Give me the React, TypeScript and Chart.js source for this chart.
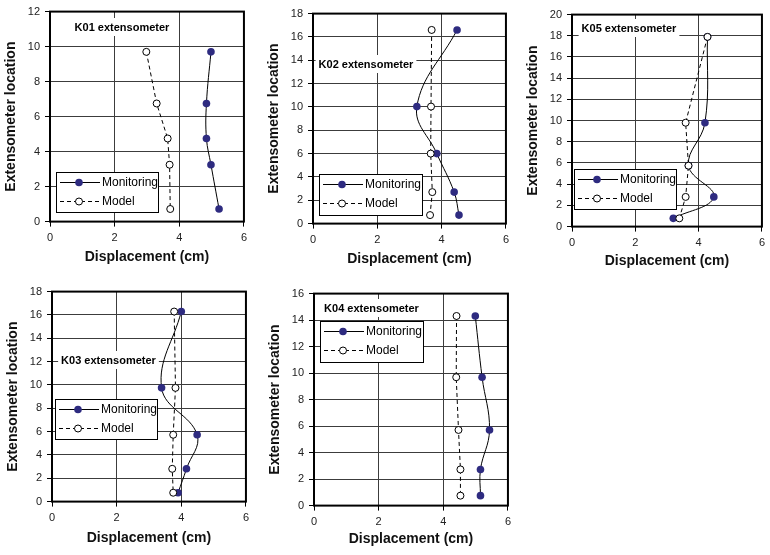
import React, { useEffect, useRef } from "react";
import { Chart, registerables } from "chart.js";
Chart.register(...registerables);

// ---------- data ----------
const xTickValues = [0, 2, 4, 6];
const seriesNames = ["Monitoring", "Model"];
const panelTitles = ["K01 extensometer", "K02 extensometer", "K05 extensometer", "K03 extensometer", "K04 extensometer"];
const xAxisTitle = "Displacement (cm)";
const yAxisTitle = "Extensometer location";
const yMaxValues = [12, 18, 20, 18, 16];

const k01Location = [9.7, 6.75, 4.75, 3.25, 0.72];
const k01Monitoring = [4.98, 4.84, 4.84, 4.98, 5.23];
const k01Model = [2.98, 3.3, 3.64, 3.7, 3.72];

const k02Location = [16.6, 10.03, 6.0, 2.7, 0.73];
const k02Monitoring = [4.48, 3.23, 3.85, 4.39, 4.54];
const k02Model = [3.69, 3.67, 3.66, 3.71, 3.64];

const k05Location = [17.9, 9.8, 5.75, 2.8, 0.78];
const k05Monitoring = [4.28, 4.2, 3.68, 4.48, 3.2];
const k05Model = [4.28, 3.59, 3.68, 3.59, 3.39];

const k03Location = [16.29, 9.75, 5.73, 2.81, 0.76];
const k03Monitoring = [4.0, 3.39, 4.49, 4.16, 3.9];
const k03Model = [3.78, 3.82, 3.75, 3.72, 3.75];

const k04Location = [14.31, 9.69, 5.71, 2.73, 0.75];
const k04Monitoring = [4.99, 5.2, 5.43, 5.15, 5.15];
const k04Model = [4.41, 4.4, 4.47, 4.53, 4.53];

const panelData = [
  { loc: k01Location, mon: k01Monitoring, mod: k01Model },
  { loc: k02Location, mon: k02Monitoring, mod: k02Model },
  { loc: k05Location, mon: k05Monitoring, mod: k05Model },
  { loc: k03Location, mon: k03Monitoring, mod: k03Model },
  { loc: k04Location, mon: k04Monitoring, mod: k04Model },
];

// ---------- layout (page pixel coordinates) ----------
const layouts = [
  { area: { l: 50, r: 244, t: 9, b: 222 }, title: { cx: 122, cy: 28 }, legend: { x: 56, y: 172, w: 102, h: 40 }, xTitleDy: 36 },
  { area: { l: 313, r: 506, t: 11, b: 224 }, title: { cx: 366, cy: 65 }, legend: { x: 319, y: 174, w: 103, h: 41 }, xTitleDy: 36 },
  { area: { l: 572, r: 766, t: 12, b: 227 }, title: { cx: 629, cy: 29 }, legend: { x: 574, y: 169, w: 102, h: 40 }, xTitleDy: 35 },
  { area: { l: 52, r: 246, t: 289, b: 502 }, title: { cx: 108.5, cy: 361 }, legend: { x: 55, y: 399, w: 102, h: 40 }, xTitleDy: 37 },
  { area: { l: 314, r: 508, t: 291, b: 506 }, title: { cx: 371.5, cy: 309 }, legend: { x: 320, y: 321, w: 103, h: 41 }, xTitleDy: 34 },
];

const FONT = '"Liberation Sans", Arial, sans-serif';
const INDIGO = "#2E2B80";
const GRID = "#3c3c3c";
const Y_AXIS_W = 50;
const PAD_TOP = 9;
const TITLE_FONT_SIZE = 14;

function Panel({ index }: { index: number }) {
  const ref = useRef<HTMLCanvasElement | null>(null);
  const lay = layouts[index];
  const { l, r, t, b } = lay.area;
  const padRight = Math.min(8, 770 - r);
  const canvasLeft = l - Y_AXIS_W;
  const canvasTop = t - PAD_TOP;
  const lineH = TITLE_FONT_SIZE * 1.2;
  const xScaleH = lay.xTitleDy + lineH / 2 + 2;
  const width = Y_AXIS_W + (r - l) + padRight;
  const height = PAD_TOP + (b - t) + xScaleH;

  useEffect(() => {
    const canvas = ref.current;
    if (!canvas) return;
    const d = panelData[index];
    const ox = canvasLeft;
    const oy = canvasTop;

    const framePlugin = {
      id: "frame" + index,
      beforeDatasetsDraw(chart: any) {
        const { ctx, chartArea } = chart;
        ctx.save();
        ctx.strokeStyle = "#000";
        ctx.lineWidth = 2;
        ctx.strokeRect(chartArea.left, chartArea.top, chartArea.right - chartArea.left, chartArea.bottom - chartArea.top);
        ctx.restore();
      },
      afterDatasetsDraw(chart: any) {
        const ctx = chart.ctx;
        ctx.save();
        // panel label with white background
        ctx.font = `bold 11px ${FONT}`;
        const title = panelTitles[index];
        const tw = ctx.measureText(title).width;
        const tcx = lay.title.cx - ox;
        const tcy = lay.title.cy - oy;
        ctx.fillStyle = "#fff";
        ctx.fillRect(tcx - tw / 2 - 3, tcy - 10, tw + 6, 18);
        ctx.fillStyle = "#000";
        ctx.textAlign = "center";
        ctx.textBaseline = "middle";
        ctx.fillText(title, tcx, tcy);

        // legend box
        const lx = lay.legend.x - ox;
        const ly = lay.legend.y - oy;
        ctx.fillStyle = "#fff";
        ctx.fillRect(lx, ly, lay.legend.w, lay.legend.h);
        ctx.strokeStyle = "#000";
        ctx.lineWidth = 1;
        ctx.strokeRect(Math.round(lx) + 0.5, Math.round(ly) + 0.5, lay.legend.w, lay.legend.h);

        const rows = [ly + 10, ly + 29];
        // Monitoring row
        ctx.setLineDash([]);
        ctx.beginPath();
        ctx.moveTo(lx + 4, Math.round(rows[0]) + 0.5);
        ctx.lineTo(lx + 44, Math.round(rows[0]) + 0.5);
        ctx.stroke();
        ctx.beginPath();
        ctx.arc(lx + 23, rows[0] + 0.5, 3.8, 0, Math.PI * 2);
        ctx.fillStyle = INDIGO;
        ctx.fill();
        // Model row
        ctx.setLineDash([4, 3]);
        ctx.beginPath();
        ctx.moveTo(lx + 4, Math.round(rows[1]) + 0.5);
        ctx.lineTo(lx + 44, Math.round(rows[1]) + 0.5);
        ctx.stroke();
        ctx.setLineDash([]);
        ctx.beginPath();
        ctx.arc(lx + 23, rows[1] + 0.5, 3.5, 0, Math.PI * 2);
        ctx.fillStyle = "#fff";
        ctx.fill();
        ctx.stroke();

        ctx.fillStyle = "#000";
        ctx.font = `12px ${FONT}`;
        ctx.textAlign = "left";
        ctx.textBaseline = "middle";
        ctx.fillText(seriesNames[0], lx + 46, rows[0] + 0.5);
        ctx.fillText(seriesNames[1], lx + 46, rows[1] + 0.5);
        ctx.restore();
      },
    };

    const chart = new Chart(canvas, {
      type: "scatter",
      data: {
        datasets: [
          {
            label: seriesNames[1],
            data: d.loc.map((y, i) => ({ x: d.mod[i], y })),
            showLine: true,
            borderColor: "#000",
            borderWidth: 1,
            borderDash: [4, 3],
            tension: 0,
            pointRadius: 3.5,
            pointBackgroundColor: "#fff",
            pointBorderColor: "#000",
            pointBorderWidth: 1,
            order: 0,
          },
          {
            label: seriesNames[0],
            data: d.loc.map((y, i) => ({ x: d.mon[i], y })),
            showLine: true,
            borderColor: "#000",
            borderWidth: 1,
            tension: 0.4,
            pointRadius: 3.8,
            pointBackgroundColor: INDIGO,
            pointBorderColor: INDIGO,
            pointBorderWidth: 0,
            order: 1,
          },
        ] as any,
      },
      options: {
        responsive: false,
        animation: false,
        events: [],
        layout: { padding: { left: 0, right: padRight, top: PAD_TOP, bottom: 0 } },
        plugins: { legend: { display: false }, tooltip: { enabled: false } },
        scales: {
          x: {
            type: "linear",
            min: 0,
            max: 6,
            afterBuildTicks: (s: any) => {
              s.ticks = xTickValues.map((v) => ({ value: v }));
            },
            afterFit: (s: any) => {
              s.height = xScaleH;
            },
            ticks: { color: "#222", font: { family: FONT, size: 11 }, padding: 5, maxRotation: 0 },
            grid: {
              color: (c: any) => (c.tick && (c.tick.value === 2 || c.tick.value === 4) ? GRID : "rgba(0,0,0,0)"),
              tickColor: "#000",
              tickLength: 5,
              lineWidth: 1,
            },
            border: { display: false },
            title: {
              display: true,
              text: xAxisTitle,
              color: "#111",
              font: { family: FONT, size: TITLE_FONT_SIZE, weight: "bold" },
              padding: { top: 0, bottom: 2 },
            },
          },
          y: {
            type: "linear",
            min: 0,
            max: yMaxValues[index],
            ticks: { stepSize: 2, color: "#222", font: { family: FONT, size: 11 }, padding: 5 },
            afterFit: (s: any) => {
              s.width = Y_AXIS_W;
            },
            grid: { color: GRID, tickColor: "#000", tickLength: 5, lineWidth: 1 },
            border: { display: false },
            title: {
              display: true,
              text: yAxisTitle,
              color: "#111",
              font: { family: FONT, size: TITLE_FONT_SIZE, weight: "bold" },
              padding: { top: 3, bottom: 0 },
            },
          },
        },
      } as any,
      plugins: [framePlugin],
    });
    return () => chart.destroy();
  }, [index]);

  return (
    <canvas
      ref={ref}
      width={width}
      height={height}
      style={{ position: "absolute", left: canvasLeft, top: canvasTop, width, height }}
    />
  );
}

export default function App() {
  return (
    <div style={{ position: "absolute", left: 0, top: 0, width: 770, height: 555, overflow: "hidden", background: "#fff" }}>
      {layouts.map((_, i) => (
        <Panel key={i} index={i} />
      ))}
    </div>
  );
}
